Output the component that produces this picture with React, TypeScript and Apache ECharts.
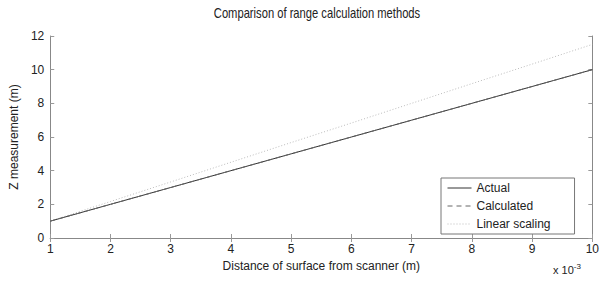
import React, { useEffect, useRef } from "react";
import * as echarts from "echarts";

const distances = [1, 2, 3, 4, 5, 6, 7, 8, 9, 10];
const actual = [1, 2, 3, 4, 5, 6, 7, 8, 9, 10];
const calculated = [1, 2, 3, 4, 5, 6, 7, 8, 9, 10];
const linearScaling = [1, 2.17, 3.33, 4.5, 5.67, 6.83, 8, 9.17, 10.33, 11.5];
const seriesNames = ["Actual", "Calculated", "Linear scaling"];
const titleText = "Comparison of range calculation methods";

const FONT = "'Liberation Sans', Arial, sans-serif";

export default function App() {
  const ref = useRef<HTMLDivElement>(null);
  useEffect(() => {
    if (!ref.current) return;
    const chart = echarts.init(ref.current, undefined, { renderer: "svg" });
    const pts = (ys: number[]) => distances.map((x, i) => [x, ys[i]]);
    const axisCommon = {
      type: "value" as const,
      axisLine: { show: true, lineStyle: { color: "#888", width: 1 } },
      axisTick: { show: true, inside: true, length: 4, lineStyle: { color: "#999" } },
      splitLine: { show: false },
    };
    chart.setOption({
      animation: false,
      backgroundColor: "#fff",
      grid: { left: 43, right: 8, top: 36, bottom: 47, show: false },
      legend: {
        orient: "vertical",
        left: 441,
        top: 178,
        width: 125,
        data: seriesNames,
        itemWidth: 24,
        itemHeight: 12,
        itemGap: 6,
        padding: [4, 24, 4, 6],
        borderColor: "#777",
        borderWidth: 1,
        backgroundColor: "#fff",
        itemStyle: { opacity: 0 },
        lineStyle: { width: 1 },
        textStyle: { fontFamily: FONT, fontSize: 12, color: "#222" },
      },
      xAxis: [
        {
          ...axisCommon,
          min: 1, max: 10, interval: 1,
          name: "Distance of surface from scanner (m)",
          nameLocation: "middle",
          nameGap: 20,
          nameTextStyle: { fontFamily: FONT, fontSize: 12, color: "#222" },
          axisLabel: { fontFamily: FONT, fontSize: 12, color: "#222", margin: 5 },
        },
        {
          ...axisCommon,
          position: "top",
          min: 1, max: 10, interval: 1,
          axisLabel: { show: false },
        },
      ],
      yAxis: [
        {
          ...axisCommon,
          min: 0, max: 12, interval: 2,
          name: "Z measurement (m)",
          nameLocation: "middle",
          nameGap: 24,
          nameTextStyle: { fontFamily: FONT, fontSize: 12, color: "#222" },
          axisLabel: { fontFamily: FONT, fontSize: 12, color: "#222", margin: 6 },
        },
        {
          ...axisCommon,
          position: "right",
          min: 0, max: 12, interval: 2,
          axisLabel: { show: false },
        },
      ],
      series: [
        {
          name: seriesNames[0], type: "line", data: pts(actual), symbol: "none",
          lineStyle: { color: "#333", width: 1 }, itemStyle: { color: "#333" }, z: 3,
        },
        {
          name: seriesNames[1], type: "line", data: pts(calculated), symbol: "none",
          lineStyle: { color: "#666", width: 1, type: [5, 4] }, itemStyle: { color: "#666" }, z: 4,
        },
        {
          name: seriesNames[2], type: "line", data: pts(linearScaling), symbol: "none",
          lineStyle: { color: "#bbb", width: 1, type: [1, 2] }, itemStyle: { color: "#bbb" }, z: 2,
        },
      ],
      graphic: [
        {
          type: "text",
          x: 317,
          y: 14,
          scaleX: 0.8,
          style: {
            text: titleText,
            x: 0,
            y: 0,
            align: "center",
            verticalAlign: "middle",
            fontFamily: FONT,
            fontSize: 14,
            fill: "#222",
          },
        },
        {
          type: "text",
          left: 553,
          top: 262,
          style: {
            text: "x 10{s|-3}",
            rich: { s: { fontSize: 8, verticalAlign: "top", padding: [0, 0, 8, 0], fontFamily: FONT, fill: "#222" } },
            fontFamily: FONT,
            fontSize: 11,
            fill: "#222",
          },
        },
      ],
    });
    return () => chart.dispose();
  }, []);
  return <div ref={ref} style={{ width: 602, height: 285, position: "absolute", left: 0, top: 0 }} />;
}
